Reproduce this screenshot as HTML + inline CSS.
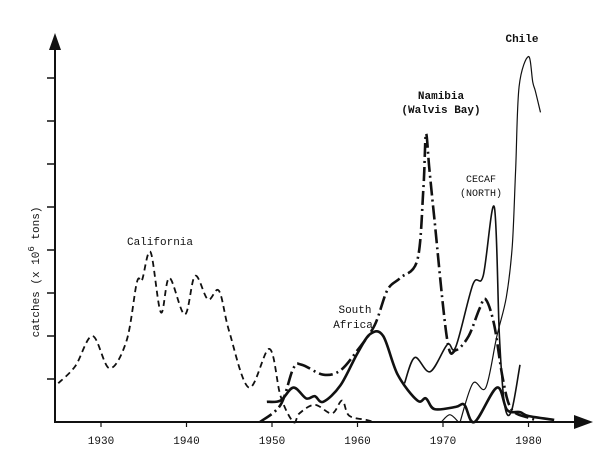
<!DOCTYPE html>
<html><head><meta charset="utf-8"><style>
body{margin:0;background:#fff}
svg{display:block}
text{font-family:"Liberation Mono",monospace;fill:#111}
</style></head><body>
<svg id="chart" width="600" height="455" viewBox="0 0 600 455" xmlns="http://www.w3.org/2000/svg">
<g id="axes"></g>
<g id="series"></g>
<g>
<text transform="translate(39,272) rotate(-90)" text-anchor="middle" font-size="11">catches (x 10<tspan dy="-5" font-size="9">6</tspan><tspan dy="5"> tons)</tspan></text>
<text x="160" y="245" text-anchor="middle" font-size="11">California</text>
<text x="355" y="313" text-anchor="middle" font-size="11">South</text>
<text x="353" y="328" text-anchor="middle" font-size="11">Africa</text>
<text x="441" y="99" text-anchor="middle" font-size="11" font-weight="bold">Namibia</text>
<text x="441" y="113" text-anchor="middle" font-size="11" font-weight="bold">(Walvis Bay)</text>
<text x="481" y="182" text-anchor="middle" font-size="10">CECAF</text>
<text x="481" y="196" text-anchor="middle" font-size="10">(NORTH)</text>
<text x="522" y="42" text-anchor="middle" font-size="11" font-weight="bold">Chile</text>
</g>
</svg>
<script>
const xTickYears=[1930,1940,1950,1960,1970,1980];
const yTickValues=[1,2,3,4,5,6,7,8];
const californiaYears=[1925,1927,1929,1931,1933,1934.2,1934.8,1935.8,1937,1938,1939.8,1941,1942.5,1943.8,1945,1947.3,1949.7,1951,1952.5,1953.2,1955,1957,1958.2,1959,1961,1962];
const californiaVals=[0.9,1.3,2.0,1.25,1.9,3.25,3.3,3.95,2.55,3.35,2.5,3.4,2.85,3.05,2.1,0.8,1.7,0.6,0,0.2,0.4,0.2,0.5,0.15,0.05,0];
const southAfricaYears=[1949.4,1951,1952.5,1954,1955,1956,1958,1960,1961.5,1963,1964.7,1967,1968,1969,1971.5,1972.5,1973.7,1976.3,1977.5,1979,1980,1983];
const southAfricaVals=[0.47,0.5,0.8,0.55,0.6,0.47,0.85,1.6,2.05,2.0,1.1,0.5,0.55,0.3,0.35,0.4,0,0.8,0.28,0.23,0.14,0.05];
const namibiaYears=[1948.6,1951,1952.5,1953.5,1956,1958,1960,1962,1963.5,1965,1967,1967.7,1968,1968.4,1969,1970.5,1971.5,1973,1974.3,1975,1976,1977,1978,1980,1981];
const namibiaVals=[0,0.4,1.25,1.33,1.1,1.2,1.67,2.25,3.07,3.35,3.77,5.4,6.7,5.9,4.7,1.9,1.67,2.0,2.65,2.85,2.25,1.0,0.3,0.1,0.05];
const cecafYears=[1965.5,1966.7,1968.5,1970.5,1971.5,1973.5,1974.7,1976,1976.6,1977.2,1978,1979];
const cecafVals=[0.9,1.5,1.17,1.8,1.75,3.2,3.4,5.0,2.0,0.4,0.25,1.33];
const chileYears=[1972,1973.5,1975,1976.3,1977.4,1978.1,1978.5,1978.9,1980,1980.5,1980.8,1981.4];
const chileVals=[0,0.9,0.8,2.0,2.9,4.1,5.9,7.8,8.5,7.9,7.7,7.2];
const otherYears=[1969.8,1970.8,1971.8];
const otherVals=[0,0.17,0];

const X0=101, PXY=8.55, Y0=422, PXV=43;
const xs=y=>X0+(y-1930)*PXY;
const ys=v=>Y0-v*PXV;
const NS='http://www.w3.org/2000/svg';
function mk(tag,attrs,parent){const e=document.createElementNS(NS,tag);for(const k in attrs)e.setAttribute(k,attrs[k]);parent.appendChild(e);return e;}
const axes=document.getElementById('axes');
let a=mk('line',{x1:55,y1:423,x2:55,y2:45,stroke:'#111','stroke-width':2},axes);


a=mk('polygon',{points:'49,50 55,33 61,50',fill:'#111'},axes);


a=mk('line',{x1:55,y1:422,x2:580,y2:422,stroke:'#111','stroke-width':2},axes);


a=mk('polygon',{points:'574,415 593,422 574,429',fill:'#111'},axes);


yTickValues.forEach(v=>{const t=mk('line',{x1:47,y1:ys(v),x2:55,y2:ys(v),stroke:'#111','stroke-width':1.5},axes);

});
xTickYears.forEach(yr=>{const t=mk('line',{x1:xs(yr),y1:422,x2:xs(yr),y2:427,stroke:'#111','stroke-width':1.2},axes);


const l=mk('text',{x:xs(yr),y:444,'text-anchor':'middle','font-size':11},axes);l.textContent=yr;

});
function smooth(years,vals){const p=years.map((y,i)=>[xs(y),ys(vals[i])]);let d='M'+p[0][0]+','+p[0][1];
for(let i=0;i<p.length-1;i++){const p0=p[i-1]||p[i],p1=p[i],p2=p[i+1],p3=p[i+2]||p2;
const c1=[p1[0]+(p2[0]-p0[0])/6,p1[1]+(p2[1]-p0[1])/6],c2=[p2[0]-(p3[0]-p1[0])/6,p2[1]-(p3[1]-p1[1])/6];
d+=' C'+c1[0].toFixed(1)+','+c1[1].toFixed(1)+' '+c2[0].toFixed(1)+','+c2[1].toFixed(1)+' '+p2[0].toFixed(1)+','+p2[1].toFixed(1);}return d;}
const sg=document.getElementById('series');
function draw(years,vals,name,w,dash){const e=mk('path',{d:smooth(years,vals),fill:'none',stroke:'#111','stroke-width':w,'stroke-dasharray':dash||'none','stroke-linejoin':'round'},sg);

}
draw(californiaYears,californiaVals,'series-california',1.8,'6 4');
draw(southAfricaYears,southAfricaVals,'series-south-africa',2.6);
draw(namibiaYears,namibiaVals,'series-namibia',2.6,'14 4 2 4');
draw(cecafYears,cecafVals,'series-cecaf-north',1.6);
draw(chileYears,chileVals,'series-chile',1.2);
draw(otherYears,otherVals,'series-minor',1.2);
</script>
</body></html>
